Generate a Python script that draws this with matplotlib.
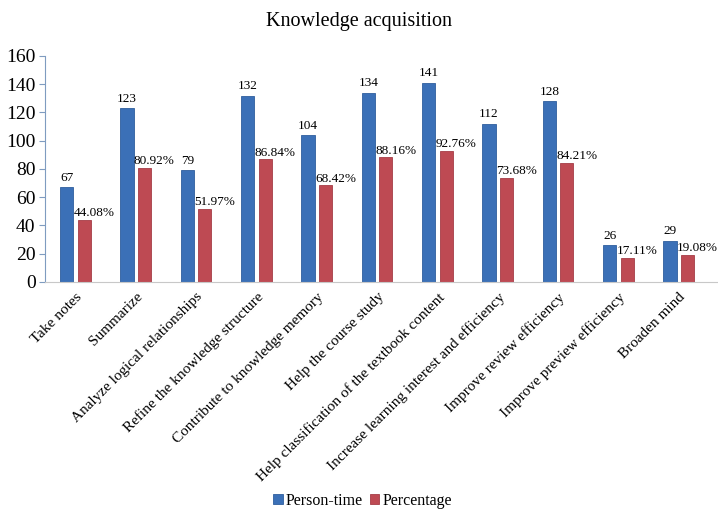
import numpy as np
import matplotlib.pyplot as plt

plt.rcParams['font.family'] = ['Liberation Serif', 'DejaVu Serif']

categories = ["Take notes", "Summarize", "Analyze logical relationships",
              "Refine the knowledge structure", "Contribute to knowledge memory",
              "Help the course study", "Help classification of the textbook content",
              "Increase learning interest and efficiency", "Improve review efficiency",
              "Improve preview efficiency", "Broaden mind"]
person_time = [67, 123, 79, 132, 104, 134, 141, 112, 128, 26, 29]
percentage = [44.08, 80.92, 51.97, 86.84, 68.42, 88.16, 92.76, 73.68, 84.21, 17.11, 19.08]

blue = "#3B70B7"
red = "#BE4A53"

fig = plt.figure(figsize=(7.18, 5.09), dpi=100)
ax = fig.add_axes([0.063, 0.446, 0.937, 0.444])

x = np.arange(len(categories))
w = 0.22
gap = 0.035
b1 = ax.bar(x - w/2 - gap, person_time, w, color=blue, edgecolor="#2F5E9E", linewidth=0.6, label="Person-time")
b2 = ax.bar(x + w/2 + gap, percentage, w, color=red, edgecolor="#A53D46", linewidth=0.6, label="Percentage")

for xi, v in zip(x, person_time):
    ax.text(xi - w/2 - gap, v + 2.5, str(v), ha="center", va="bottom", fontsize=9.5)
for xi, v in zip(x, percentage):
    ax.text(xi - 0.03, v + 0.5, f"{v:.2f}%", ha="left", va="bottom", fontsize=9.5)

ax.set_ylim(0, 160)
ax.set_yticks(range(0, 161, 20))
ax.set_xlim(-0.5, len(categories) - 0.35)
ax.set_xticks(x)
ax.set_xticklabels(categories, rotation=45, ha="right", rotation_mode="anchor", fontsize=11)
ax.tick_params(axis="x", length=0, pad=6)
ax.tick_params(axis="y", labelsize=14, length=4, color="#7F9CC0", pad=3)

for s in ["top", "right"]:
    ax.spines[s].set_visible(False)
ax.spines["left"].set_color("#7F9CC0")
ax.spines["bottom"].set_color("#C8C8C8")

fig.text(0.5, 0.958, "Knowledge acquisition", ha="center", va="center", fontsize=14.5)
fig.legend(handles=[b1, b2], loc="center", bbox_to_anchor=(0.505, 0.016), ncol=2,
           frameon=False, fontsize=11.5, handlelength=0.6, handleheight=0.6,
           handletextpad=0.2, columnspacing=0.4)

fig.savefig("out.png", dpi=100)
